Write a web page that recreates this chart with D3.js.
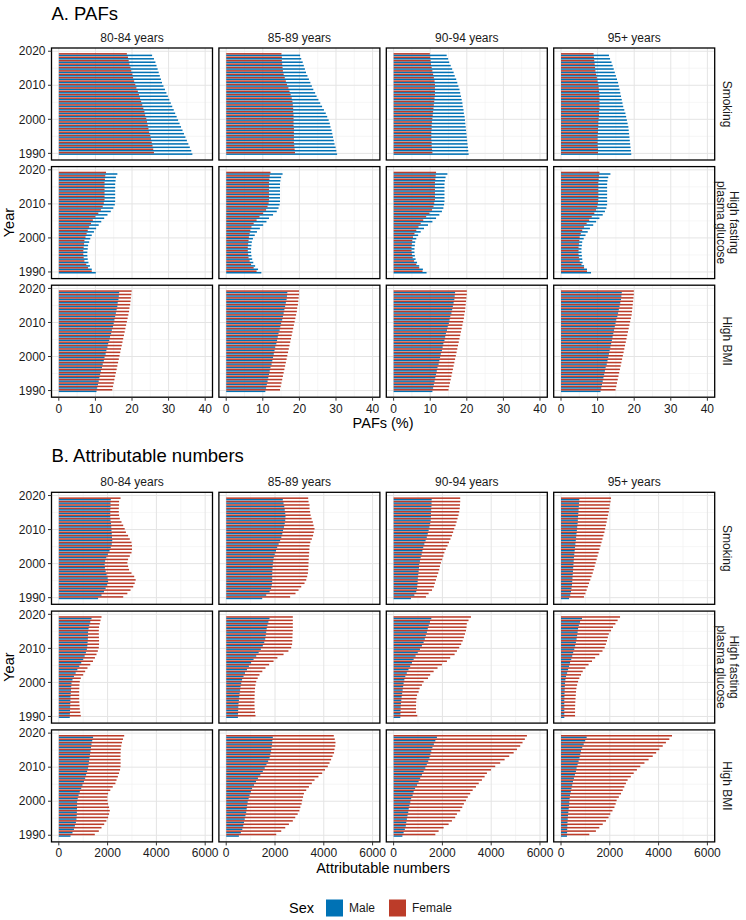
<!DOCTYPE html>
<html><head><meta charset="utf-8">
<script src="https://cdn.jsdelivr.net/npm/d3@7"></script>
<style>body{margin:0;background:#fff} svg{display:block} text{font-family:"Liberation Sans",Arial,Helvetica,sans-serif}</style>
</head><body><svg id="chart" width="746" height="920"></svg>
<script>
const years = [1990,1991,1992,1993,1994,1995,1996,1997,1998,1999,2000,2001,2002,2003,2004,2005,2006,2007,2008,2009,2010,2011,2012,2013,2014,2015,2016,2017,2018,2019];
const ageGroups = ["80-84 years","85-89 years","90-94 years","95+ years"];
const riskLabels = [["Smoking"],["High fasting","plasma glucose"],["High BMI"]];
const sexes = ["Male","Female"];
const sexColors = ["#0072B5","#BC3C29"];
const pafTicks = [0,10,20,30,40];
const numTicks = [0,2000,4000,6000];
const yearTicks = [1990,2000,2010,2020];

// A. PAFs (%), one row per age group (80-84, 85-89, 90-94, 95+), years 1990..2019
const pafSmokingMale = [
 [36.5,36.2,35.8,35.4,35.0,34.6,34.2,33.8,33.4,33.0,32.6,32.2,31.8,31.4,31.0,30.6,30.2,29.8,29.4,29.0,28.6,28.2,27.9,27.6,27.3,27.0,26.7,26.4,26.0,25.5],
 [30.3,30.1,29.9,29.6,29.4,29.2,29.0,28.8,28.5,28.3,28.0,27.6,27.2,26.7,26.2,25.7,25.2,24.7,24.3,23.8,23.4,23.0,22.6,22.2,21.8,21.5,21.2,20.9,20.5,20.2],
 [20.5,20.4,20.3,20.2,20.1,20.0,19.9,19.8,19.7,19.6,19.5,19.4,19.2,19.1,18.9,18.8,18.6,18.4,18.2,18.0,17.7,17.4,17.1,16.7,16.4,16.0,15.6,15.2,14.9,14.5],
 [19.2,19.1,19.0,18.9,18.8,18.7,18.6,18.5,18.4,18.2,18.0,17.8,17.6,17.3,17.0,16.8,16.6,16.4,16.2,16.0,15.8,15.6,15.3,15.0,14.7,14.4,14.1,13.8,13.4,13.1]];
const pafSmokingFemale = [
 [26.0,25.8,25.6,25.4,25.2,25.0,24.7,24.5,24.3,24.1,23.9,23.6,23.4,23.1,22.8,22.5,22.2,21.9,21.6,21.2,20.9,20.6,20.3,20.1,19.8,19.6,19.3,19.1,18.9,18.6],
 [18.8,18.7,18.6,18.5,18.5,18.5,18.5,18.5,18.4,18.4,18.4,18.4,18.3,18.3,18.2,18.1,17.9,17.6,17.3,17.0,16.6,16.3,16.0,15.7,15.5,15.4,15.3,15.2,15.2,15.1],
 [10.6,10.5,10.4,10.4,10.3,10.3,10.3,10.4,10.4,10.5,10.6,10.7,10.8,10.9,11.0,11.1,11.2,11.3,11.3,11.3,11.3,11.2,11.0,10.8,10.6,10.4,10.2,10.1,10.0,9.9],
 [10.1,10.1,10.0,10.0,10.0,10.0,10.1,10.1,10.2,10.2,10.3,10.4,10.4,10.5,10.5,10.5,10.5,10.5,10.4,10.3,10.2,10.0,9.8,9.6,9.4,9.3,9.2,9.1,9.0,8.9]];
const pafGlucoseMale = [
 [10.1,9.0,8.5,8.1,7.9,7.8,7.8,7.9,8.0,8.3,8.6,9.0,9.6,10.2,10.9,11.6,12.4,13.3,14.2,14.9,15.3,15.4,15.4,15.4,15.4,15.4,15.4,15.5,15.6,16.0],
 [9.6,8.7,7.9,7.4,7.1,6.9,6.8,6.8,6.9,7.0,7.3,7.8,8.4,9.2,10.1,11.0,11.7,12.8,13.8,14.3,14.6,14.7,14.7,14.7,14.7,14.7,14.7,14.8,15.0,15.4],
 [9.0,8.0,7.0,6.4,6.0,5.8,5.7,5.7,5.8,5.9,6.2,6.7,7.4,8.3,9.4,10.6,11.6,12.5,13.2,13.6,13.8,13.9,13.9,13.9,13.9,13.9,13.9,14.0,14.2,14.7],
 [8.2,7.1,6.3,5.9,5.8,5.7,5.6,5.6,5.7,5.8,6.2,6.7,7.3,7.9,8.8,9.6,10.5,11.4,12.0,12.4,12.6,12.6,12.6,12.6,12.6,12.6,12.6,12.7,12.9,13.5]];
const pafGlucoseFemale = [
 [9.0,8.0,7.5,7.0,6.8,6.7,6.7,6.8,6.9,7.0,7.3,7.6,7.9,8.3,8.8,9.3,10.0,10.8,11.5,12.0,12.3,12.5,12.5,12.5,12.5,12.5,12.5,12.6,12.7,12.9],
 [8.3,7.5,6.8,6.4,6.1,6.0,5.9,5.9,6.0,6.1,6.2,6.4,6.6,6.9,7.5,8.3,9.1,10.1,10.9,11.3,11.6,11.7,11.7,11.7,11.7,11.7,11.7,11.8,11.9,12.1],
 [7.9,7.0,6.2,5.6,5.2,5.0,4.9,4.9,5.0,5.1,5.3,5.7,6.2,6.8,7.4,8.1,8.9,9.8,10.5,10.9,11.1,11.3,11.3,11.3,11.3,11.3,11.3,11.4,11.5,11.6],
 [7.1,6.3,5.6,5.1,4.9,4.8,4.8,4.8,4.9,5.0,5.1,5.4,5.8,6.3,7.0,7.7,8.4,9.1,9.6,9.9,10.1,10.2,10.2,10.2,10.2,10.2,10.2,10.3,10.4,10.5]];
const pafBmiMale = [
 [10.3,10.5,10.7,10.9,11.1,11.3,11.5,11.8,12.0,12.3,12.5,12.8,13.0,13.3,13.5,13.8,14.0,14.3,14.5,14.8,15.0,15.2,15.4,15.6,15.8,16.0,16.1,16.3,16.4,16.5],
 [10.7,10.9,11.1,11.3,11.5,11.7,11.9,12.1,12.4,12.6,12.8,13.0,13.2,13.4,13.7,13.9,14.1,14.3,14.6,14.8,15.0,15.3,15.5,15.7,15.9,16.1,16.3,16.5,16.6,16.7],
 [10.6,10.8,11.0,11.2,11.4,11.6,11.8,12.0,12.3,12.5,12.7,12.9,13.2,13.4,13.6,13.9,14.1,14.3,14.6,14.8,15.1,15.3,15.5,15.8,16.0,16.2,16.4,16.6,16.7,16.8],
 [10.8,11.0,11.2,11.4,11.6,11.8,12.0,12.2,12.5,12.7,12.9,13.1,13.3,13.5,13.7,13.9,14.1,14.3,14.5,14.7,14.9,15.1,15.4,15.6,15.8,16.0,16.2,16.4,16.5,16.6]];
const pafBmiFemale = [
 [14.6,14.8,15.0,15.2,15.4,15.6,15.8,16.0,16.2,16.4,16.6,16.8,17.0,17.2,17.4,17.6,17.8,18.0,18.2,18.4,18.6,18.8,19.0,19.2,19.3,19.5,19.6,19.7,19.8,19.9],
 [14.7,14.9,15.1,15.3,15.5,15.7,15.9,16.1,16.3,16.5,16.7,16.9,17.1,17.3,17.5,17.7,17.9,18.1,18.3,18.5,18.7,18.9,19.1,19.3,19.4,19.6,19.7,19.8,19.9,19.9],
 [15.0,15.2,15.4,15.6,15.8,16.0,16.2,16.4,16.6,16.8,17.0,17.2,17.4,17.6,17.8,18.0,18.2,18.4,18.6,18.8,19.0,19.2,19.3,19.5,19.6,19.7,19.8,19.9,20.0,20.0],
 [14.9,15.1,15.3,15.5,15.7,15.9,16.1,16.3,16.5,16.7,16.9,17.1,17.3,17.5,17.7,17.9,18.1,18.3,18.5,18.7,18.9,19.1,19.3,19.4,19.5,19.6,19.7,19.8,19.9,19.9]];

// B. Attributable numbers
const numSmokingMale = [
 [1610,1750,1850,1920,1980,2020,2000,1960,1920,1890,1880,1900,1950,2010,2080,2130,2170,2190,2180,2170,2160,2150,2140,2120,2110,2110,2110,2120,2120,2130],
 [1475,1640,1780,1840,1870,1885,1885,1885,1890,1900,1910,1930,1950,1990,2040,2090,2150,2210,2260,2300,2330,2370,2400,2420,2430,2420,2400,2380,2350,2320],
 [710,850,930,960,975,985,995,1010,1025,1040,1050,1080,1110,1150,1180,1215,1260,1310,1360,1400,1435,1470,1500,1520,1530,1530,1540,1550,1555,1560],
 [330,380,410,430,450,460,470,480,490,500,510,520,530,545,560,575,590,605,620,635,650,665,680,690,700,710,720,730,740,750]];
const numSmokingFemale = [
 [2640,2810,2940,3050,3110,3150,3090,2980,2880,2840,2810,2840,2910,2980,3000,3000,2980,2910,2840,2750,2700,2640,2570,2500,2470,2460,2460,2470,2470,2530],
 [2620,2840,2965,3075,3210,3280,3320,3350,3360,3370,3375,3380,3390,3400,3410,3420,3450,3510,3560,3590,3620,3580,3550,3500,3460,3440,3415,3415,3375,3360],
 [1325,1435,1575,1650,1690,1735,1780,1830,1870,1900,1940,1990,2040,2080,2140,2210,2270,2330,2390,2440,2485,2540,2580,2620,2660,2690,2710,2720,2730,2730],
 [940,1000,1050,1100,1150,1200,1250,1300,1340,1380,1420,1460,1500,1540,1580,1620,1660,1700,1740,1780,1810,1840,1870,1900,1930,1960,1980,2000,2030,2050]];
const numGlucoseMale = [
 [450,455,460,465,470,475,480,490,500,510,520,560,620,690,760,840,920,1000,1060,1110,1150,1170,1180,1190,1195,1200,1220,1250,1290,1340],
 [480,485,490,495,505,520,535,550,570,590,615,650,710,770,850,930,1020,1120,1230,1330,1420,1500,1560,1600,1620,1640,1660,1690,1730,1775],
 [275,280,285,290,300,315,330,350,370,390,410,440,480,540,610,680,750,820,900,990,1080,1160,1230,1280,1320,1365,1400,1440,1490,1545],
 [135,135,135,135,135,135,140,145,150,155,165,180,205,250,290,330,370,420,460,500,545,580,610,640,660,680,700,730,780,860]];
const numGlucoseFemale = [
 [900,880,860,850,840,835,835,835,840,845,860,900,1000,1080,1175,1290,1400,1480,1545,1600,1640,1650,1650,1645,1640,1640,1650,1680,1710,1750],
 [1200,1180,1165,1160,1160,1160,1165,1170,1180,1200,1230,1290,1365,1480,1610,1760,1940,2100,2350,2550,2665,2700,2710,2715,2720,2730,2730,2730,2730,2730],
 [970,920,920,920,925,935,960,1025,1065,1160,1230,1410,1500,1640,1800,1980,2185,2320,2500,2595,2690,2770,2830,2880,2925,2965,2990,3000,3070,3170],
 [575,575,575,580,585,595,605,615,630,660,700,750,820,890,1000,1130,1270,1400,1570,1700,1790,1840,1885,1920,1960,2050,2130,2230,2320,2420]];
const numBmiMale = [
 [480,560,620,660,700,725,735,740,745,748,750,775,810,860,920,970,1030,1080,1120,1160,1200,1220,1240,1260,1280,1300,1320,1340,1370,1405],
 [520,600,660,700,730,760,790,820,840,860,880,920,960,1010,1060,1140,1220,1300,1400,1500,1580,1650,1720,1780,1810,1840,1860,1880,1890,1910],
 [360,410,460,500,520,545,570,600,620,650,685,720,780,820,880,960,1025,1090,1160,1230,1300,1360,1420,1470,1510,1545,1590,1650,1710,1775],
 [245,250,255,260,265,275,285,300,315,330,340,355,370,400,430,460,490,530,570,610,640,680,720,760,790,820,870,930,990,1050]];
const numBmiFemale = [
 [1475,1640,1750,1860,1950,2020,2060,2090,2060,2020,1995,1990,2020,2110,2210,2320,2365,2420,2470,2510,2530,2535,2530,2530,2535,2540,2560,2590,2630,2680],
 [2050,2255,2420,2570,2730,2830,2930,3000,3040,3090,3115,3150,3185,3280,3390,3510,3620,3780,3935,4050,4165,4235,4300,4360,4420,4440,4470,4480,4450,4410],
 [1710,1845,2050,2255,2390,2525,2595,2730,2815,2880,2965,3040,3140,3240,3375,3490,3620,3730,3825,3990,4165,4370,4550,4740,4920,5055,5190,5285,5380,5465],
 [1160,1430,1570,1710,1845,1950,2020,2110,2190,2240,2280,2370,2460,2530,2595,2660,2730,2860,2980,3110,3250,3420,3590,3760,3900,4030,4170,4300,4440,4550]];

const svg = d3.select("#chart");
const W = 161, H = 112;
const colX = [51.5, 218.9, 386.3, 553.7];

const yScale = d3.scaleLinear().domain([1988.05, 2020.95]).range([H, 0]);

function drawSection(cfg) {
  const x = d3.scaleLinear().domain(cfg.domain).range([0, W]);
  const minor = cfg.ticks.slice(0, -1).map((t, i) => (t + cfg.ticks[i + 1]) / 2);
  svg.append("text").attr("x", 51.5).attr("y", cfg.titleY)
    .attr("font-size", 18.5).attr("fill", "#000").text(cfg.title);
  cfg.rows.forEach((rowData, r) => {
    const top = cfg.rowTops[r];
    ageGroups.forEach((age, c) => {
      const g = svg.append("g").attr("transform", `translate(${colX[c]},${top})`);
      g.selectAll(".vmin").data(minor).join("line")
        .attr("x1", d => x(d)).attr("x2", d => x(d)).attr("y1", 0).attr("y2", H)
        .attr("stroke", "#f0f0f0").attr("stroke-width", 0.6);
      g.selectAll(".hmin").data([1995, 2005, 2015]).join("line")
        .attr("y1", d => yScale(d)).attr("y2", d => yScale(d)).attr("x1", 0).attr("x2", W)
        .attr("stroke", "#f0f0f0").attr("stroke-width", 0.6);
      g.selectAll(".vmaj").data(cfg.ticks).join("line")
        .attr("x1", d => x(d)).attr("x2", d => x(d)).attr("y1", 0).attr("y2", H)
        .attr("stroke", "#e4e4e4").attr("stroke-width", 1);
      g.selectAll(".hmaj").data(yearTicks).join("line")
        .attr("y1", d => yScale(d)).attr("y2", d => yScale(d)).attr("x1", 0).attr("x2", W)
        .attr("stroke", "#e4e4e4").attr("stroke-width", 1);
      sexes.forEach((sex, s) => {
        const vals = rowData[s][c];
        g.selectAll(".b" + s).data(years).join("rect")
          .attr("x", x(0))
          .attr("width", (d, i) => x(vals[i]) - x(0))
          .attr("y", d => s === 0 ? yScale(d) : yScale(d + 0.45))
          .attr("height", d => yScale(d - 0.45) - yScale(d))
          .attr("fill", sexColors[s]);
      });
      g.append("rect").attr("x", 0).attr("y", 0).attr("width", W).attr("height", H)
        .attr("fill", "none").attr("stroke", "#000").attr("stroke-width", 1.3);
      if (r === 0) {
        g.append("text").attr("x", W / 2).attr("y", -6.5).attr("text-anchor", "middle")
          .attr("font-size", 12).attr("fill", "#1a1a1a").text(age);
      }
      if (c === 0) {
        g.selectAll(".yt").data(yearTicks).join("line")
          .attr("x1", -3.5).attr("x2", 0).attr("y1", d => yScale(d)).attr("y2", d => yScale(d))
          .attr("stroke", "#333").attr("stroke-width", 1);
        g.selectAll(".yl").data(yearTicks).join("text")
          .attr("x", -6).attr("y", d => yScale(d)).attr("dy", "0.35em")
          .attr("text-anchor", "end").attr("font-size", 12).attr("fill", "#1a1a1a").text(d => d);
      }
      if (r === cfg.rows.length - 1) {
        g.selectAll(".xt").data(cfg.ticks).join("line")
          .attr("x1", d => x(d)).attr("x2", d => x(d)).attr("y1", H).attr("y2", H + 3.5)
          .attr("stroke", "#333").attr("stroke-width", 1);
        g.selectAll(".xl").data(cfg.ticks).join("text")
          .attr("x", d => x(d)).attr("y", H + 15.5)
          .attr("text-anchor", "middle").attr("font-size", 12).attr("fill", "#1a1a1a").text(d => d);
      }
      if (c === 3) {
        const lines = riskLabels[r];
        const t = g.append("text")
          .attr("transform", `translate(${W + 13},${H / 2}) rotate(90)`)
          .attr("text-anchor", "middle").attr("font-size", 12).attr("fill", "#1a1a1a");
        lines.forEach((ln, i) => {
          t.append("tspan").attr("x", 0)
            .attr("y", (i - (lines.length - 1) / 2) * 13)
            .attr("dy", "0.35em").text(ln);
        });
      }
    });
  });
  const mid = cfg.rowTops[0] + (cfg.rowTops[cfg.rowTops.length - 1] + H - cfg.rowTops[0]) / 2;
  svg.append("text").attr("transform", `translate(13.5,${mid}) rotate(-90)`)
    .attr("text-anchor", "middle").attr("font-size", 14.5).attr("fill", "#000").text("Year");
  svg.append("text").attr("x", (colX[0] + colX[3] + W) / 2)
    .attr("y", cfg.rowTops[cfg.rowTops.length - 1] + H + 31)
    .attr("text-anchor", "middle").attr("font-size", 14.5).attr("fill", "#000").text(cfg.xTitle);
}

drawSection({
  title: "A. PAFs", titleY: 19.5, rowTops: [48, 166.6, 285.2], domain: [-2, 42], ticks: pafTicks,
  xTitle: "PAFs (%)",
  rows: [[pafSmokingMale, pafSmokingFemale], [pafGlucoseMale, pafGlucoseFemale], [pafBmiMale, pafBmiFemale]]
});
drawSection({
  title: "B. Attributable numbers", titleY: 461.5, rowTops: [492.3, 611.1, 729.9], domain: [-300, 6300], ticks: numTicks,
  xTitle: "Attributable numbers",
  rows: [[numSmokingMale, numSmokingFemale], [numGlucoseMale, numGlucoseFemale], [numBmiMale, numBmiFemale]]
});

const lg = svg.append("g").attr("transform", "translate(0,908)");
lg.append("text").attr("x", 289).attr("y", 0).attr("dy", "0.35em").attr("font-size", 14.5).attr("fill", "#000").text("Sex");
sexes.forEach((s, i) => {
  const x0 = [326, 389][i];
  lg.append("rect").attr("x", x0).attr("y", -8.5).attr("width", 17).attr("height", 17).attr("fill", sexColors[i]);
  lg.append("text").attr("x", x0 + 23).attr("y", 0).attr("dy", "0.35em").attr("font-size", 12).attr("fill", "#1a1a1a").text(s);
});
</script></body></html>
